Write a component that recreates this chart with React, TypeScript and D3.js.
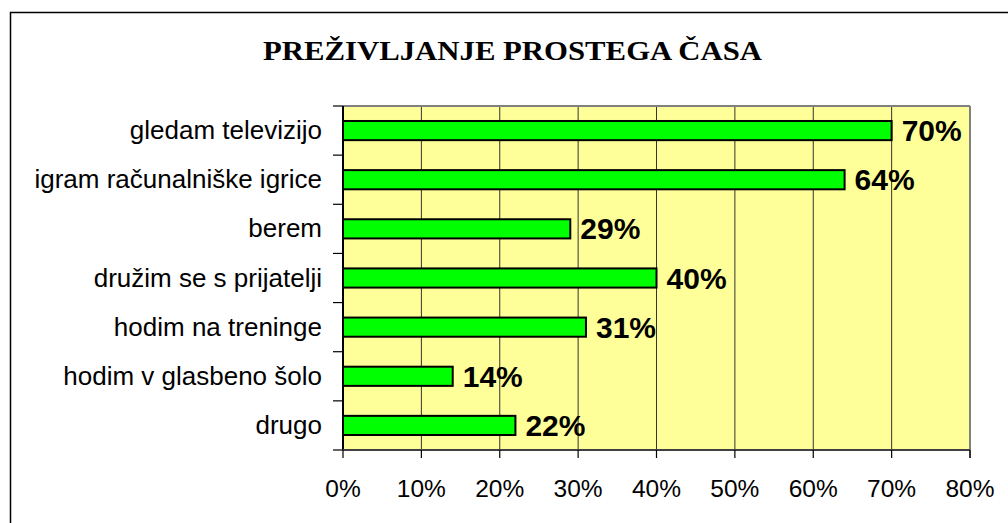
import * as d3 from "d3";

const categories = [
  "gledam televizijo",
  "igram računalniške igrice",
  "berem",
  "družim se s prijatelji",
  "hodim na treninge",
  "hodim v glasbeno šolo",
  "drugo",
];
const values = [70, 64, 29, 40, 31, 14, 22];
const xTicks = [0, 10, 20, 30, 40, 50, 60, 70, 80];
const title = "PREŽIVLJANJE PROSTEGA ČASA";

const W = 1008;
const H = 523;
const margin = { top: 106, right: 38, bottom: 73, left: 343 };

export default function App() {
  const x = d3
    .scaleLinear()
    .domain([0, 80])
    .range([margin.left, W - margin.right]);
  const y = d3
    .scaleBand()
    .domain(categories)
    .range([margin.top, H - margin.bottom]);
  const bw = y.bandwidth();
  const barH = bw * 0.39;
  const x0 = x(0);
  const x1 = x(80);
  const y0 = margin.top;
  const y1 = H - margin.bottom;

  return (
    <svg
      width={W}
      height={H}
      style={{ position: "absolute", left: 0, top: 0, background: "#fff" }}
    >
      {/* outer chart border */}
      <rect x={10.5} y={12.5} width={1010} height={520} fill="none" stroke="#000" strokeWidth={1.5} />
      <text
        x={263}
        y={60}
        textLength={499}
        lengthAdjust="spacingAndGlyphs"
        fontFamily="'Liberation Serif', 'Times New Roman', serif"
        fontWeight="bold"
        fontSize={27.5}
      >
        {title}
      </text>

      {/* plot area */}
      <rect x={x0} y={y0} width={x1 - x0} height={y1 - y0} fill="#FFFF99" />
      {xTicks.slice(1, -1).map((t) => (
        <line key={t} x1={x(t)} x2={x(t)} y1={y0} y2={y1} stroke="#333" strokeWidth={1} />
      ))}
      <line x1={x0} x2={x1} y1={y0} y2={y0} stroke="#808080" strokeWidth={2} />
      <line x1={x1} x2={x1} y1={y0} y2={y1 + 8} stroke="#808080" strokeWidth={2} />

      {/* bars */}
      {categories.map((c, i) => {
        const cy = (y(c) ?? 0) + bw / 2;
        return (
          <g key={c}>
            <rect
              x={x0}
              y={cy - barH / 2}
              width={x(values[i]) - x0}
              height={barH}
              fill="#00FF00"
              stroke="#000"
              strokeWidth={2}
            />
            <text
              x={x(values[i]) + 10}
              y={cy + 10.5}
              fontFamily="'Liberation Sans', Arial, sans-serif"
              fontWeight="bold"
              fontSize={30}
            >
              {values[i]}%
            </text>
            <text
              x={322}
              y={cy + 8.5}
              textAnchor="end"
              fontFamily="'Liberation Sans', Arial, sans-serif"
              fontSize={26}
            >
              {c}
            </text>
          </g>
        );
      })}

      {/* y axis */}
      <line x1={x0} x2={x0} y1={y0} y2={y1} stroke="#000" strokeWidth={2} />
      {categories.concat([""]).map((c, i) => {
        const ty = y0 + i * bw;
        return <line key={i} x1={x0 - 10} x2={x0} y1={ty} y2={ty} stroke="#000" strokeWidth={1.2} />;
      })}

      {/* x axis */}
      <line x1={x0} x2={x1} y1={y1} y2={y1} stroke="#404040" strokeWidth={2} />
      {xTicks.map((t) => (
        <g key={t}>
          <line x1={x(t)} x2={x(t)} y1={y1} y2={y1 + 8} stroke="#000" strokeWidth={1.2} />
          <text
            x={x(t)}
            y={496.5}
            textAnchor="middle"
            fontFamily="'Liberation Sans', Arial, sans-serif"
            fontSize={24.5}
          >
            {t}%
          </text>
        </g>
      ))}
    </svg>
  );
}
